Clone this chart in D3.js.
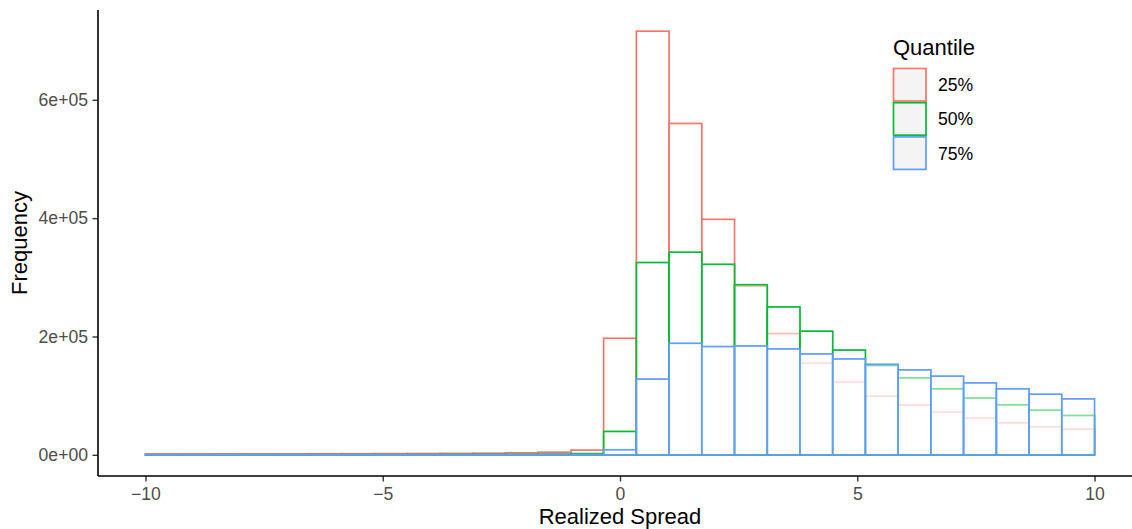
<!DOCTYPE html>
<html>
<head>
<meta charset="utf-8">
<script src="https://cdn.jsdelivr.net/npm/d3@7/dist/d3.min.js"></script>
<style>
  html, body { margin: 0; padding: 0; background: #fff; }
  svg { display: block; font-family: "Liberation Sans", Arial, sans-serif; }
</style>
</head>
<body>
<svg id="chart" width="1132" height="529"></svg>
<script>
// ---- Data ----
const binEdges = [-10, -9.310, -8.621, -7.931, -7.241, -6.552, -5.862, -5.172, -4.483, -3.793,
  -3.103, -2.414, -1.724, -1.034, -0.345, 0.345, 1.034, 1.724, 2.414, 3.103,
  3.793, 4.483, 5.172, 5.862, 6.552, 7.241, 7.931, 8.621, 9.310, 10];

const quantiles = ["25%", "50%", "75%"];
const quantileColors = ["#F8766D", "#00BA38", "#619CFF"];

const counts25 = [1500, 1500, 1600, 1600, 1700, 1800, 1900, 2000, 2200, 2400,
  2700, 3500, 4500, 8000, 197000, 716000, 560000, 398000, 285000, 205000,
  155000, 123000, 99000, 84000, 72000, 62000, 54000, 47500, 43500];
const counts50 = [200, 200, 200, 300, 300, 300, 400, 400, 500, 600,
  700, 900, 1200, 2000, 39500, 325000, 342500, 322000, 287500, 250000,
  209000, 177000, 151000, 130000, 111500, 96000, 84500, 75500, 66500];
const counts75 = [100, 100, 100, 100, 100, 100, 150, 150, 200, 200,
  250, 300, 400, 600, 8500, 128000, 188500, 183000, 184000, 179000,
  170500, 162000, 153000, 143500, 133000, 121500, 111500, 102500, 94500];

const yTicks = [0, 200000, 400000, 600000];
const yTickLabels = ["0e+00", "2e+05", "4e+05", "6e+05"];
const xTicks = [-10, -5, 0, 5, 10];
const xTickLabels = ["\u221210", "\u22125", "0", "5", "10"];

// ---- Layout ----
const svg = d3.select("#chart");
const panel = { left: 98, right: 1142, top: 10, bottom: 476 };

const seriesList = [counts25, counts50, counts75];
const maxCount = d3.max(seriesList.flat());

const x = d3.scaleLinear().domain([-11, 11]).range([panel.left, panel.right]);
const y = d3.scaleLinear().domain([-0.05 * maxCount, 1.05 * maxCount]).range([panel.bottom, panel.top]);

// ---- Bars ----
seriesList.forEach((vals, si) => {
  const data = vals.map((v, i) => ({ x0: binEdges[i], x1: binEdges[i + 1], v }));
  svg.append("g")
    .selectAll("rect")
    .data(data)
    .join("rect")
    .attr("x", d => x(d.x0))
    .attr("width", d => x(d.x1) - x(d.x0))
    .attr("y", d => y(d.v))
    .attr("height", d => y(0) - y(d.v))
    .attr("fill", "#ffffff")
    .attr("fill-opacity", 0.5)
    .attr("stroke", quantileColors[si])
    .attr("stroke-width", 1.7);
});

// ---- Axes ----
const tickColor = "#333333";
const labelColor = "#4D4D4D";

// x axis
const xAxis = d3.axisBottom(x).tickValues(xTicks).tickFormat((d, i) => xTickLabels[i]).tickSize(5.5).tickPadding(6);
const gx = svg.append("g").attr("transform", `translate(0,${panel.bottom})`).call(xAxis);
gx.select(".domain").remove();
gx.selectAll(".tick line").attr("stroke", tickColor).attr("stroke-width", 1.4);
gx.selectAll(".tick text").attr("fill", labelColor).style("font-size", "17.6px").style("font-family", "Liberation Sans, Arial, sans-serif");
svg.append("line").attr("x1", panel.left).attr("x2", panel.right)
  .attr("y1", panel.bottom).attr("y2", panel.bottom)
  .attr("stroke", "#000").attr("stroke-width", 1.6);

// y axis
const yAxis = d3.axisLeft(y).tickValues(yTicks).tickFormat((d, i) => yTickLabels[i]).tickSize(5.5).tickPadding(4.5);
const gy = svg.append("g").attr("transform", `translate(${panel.left},0)`).call(yAxis);
gy.select(".domain").remove();
gy.selectAll(".tick line").attr("stroke", tickColor).attr("stroke-width", 1.4);
gy.selectAll(".tick text").attr("fill", labelColor).style("font-size", "17.6px").style("font-family", "Liberation Sans, Arial, sans-serif");
svg.append("line").attr("x1", panel.left).attr("x2", panel.left)
  .attr("y1", panel.top).attr("y2", panel.bottom)
  .attr("stroke", "#000").attr("stroke-width", 1.6);

// titles
svg.append("text").attr("x", (panel.left + panel.right) / 2).attr("y", 524)
  .attr("text-anchor", "middle").style("font-size", "22px").attr("fill", "#000")
  .text("Realized Spread");
svg.append("text").attr("transform", `translate(27,${(panel.top + panel.bottom) / 2}) rotate(-90)`)
  .attr("text-anchor", "middle").style("font-size", "22px").attr("fill", "#000")
  .text("Frequency");

// ---- Legend ----
const legend = svg.append("g");
legend.append("text").attr("x", 893).attr("y", 55).style("font-size", "22px").attr("fill", "#000").text("Quantile");
quantiles.forEach((q, i) => {
  const top = 68.5 + i * 34.2;
  legend.append("rect").attr("x", 893.5).attr("y", top).attr("width", 32.5).attr("height", 32.5)
    .attr("fill", "#F4F4F4").attr("stroke", quantileColors[i]).attr("stroke-width", 1.7);
  legend.append("text").attr("x", 938).attr("y", top + 16.5).attr("dy", "0.35em")
    .style("font-size", "17.6px").attr("fill", "#000").text(q);
});
</script>
</body>
</html>
